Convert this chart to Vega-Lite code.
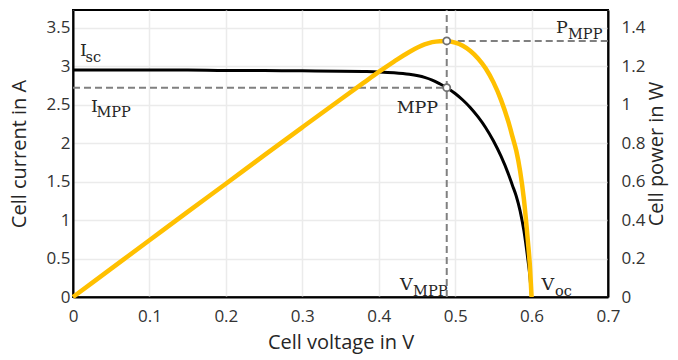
{
  "$schema": "https://vega.github.io/schema/vega-lite/v6.json",
  "width": 535,
  "height": 287,
  "autosize": {"type": "none"},
  "padding": {"left": 73, "top": 10, "right": 70, "bottom": 63},
  "background": "white",
  "config": {
    "view": {"stroke": "black", "strokeWidth": 2},
    "axis": {
      "labelFont": "Open Sans",
      "labelFontSize": 17,
      "labelColor": "#333333",
      "titleFont": "Open Sans",
      "titleFontSize": 20,
      "titleFontWeight": "normal",
      "titleColor": "#262626",
      "domainColor": "black",
      "domainWidth": 2,
      "ticks": false,
      "gridColor": "#ebebeb",
      "gridWidth": 1.5,
      "format": "~g"
    }
  },
  "datasets": {
    "curve": [
      {"V": 0, "I": 2.95, "P": 0},
      {"V": 0.05, "I": 2.95, "P": 0.1475},
      {"V": 0.1, "I": 2.95, "P": 0.295},
      {"V": 0.15, "I": 2.95, "P": 0.4425},
      {"V": 0.2, "I": 2.945, "P": 0.589},
      {"V": 0.25, "I": 2.945, "P": 0.736},
      {"V": 0.3, "I": 2.94, "P": 0.882},
      {"V": 0.35, "I": 2.935, "P": 1.027},
      {"V": 0.38, "I": 2.93, "P": 1.113},
      {"V": 0.4, "I": 2.925, "P": 1.17},
      {"V": 0.42, "I": 2.915, "P": 1.224},
      {"V": 0.44, "I": 2.895, "P": 1.274},
      {"V": 0.46, "I": 2.855, "P": 1.313},
      {"V": 0.47, "I": 2.82, "P": 1.325},
      {"V": 0.48, "I": 2.77, "P": 1.33},
      {"V": 0.489, "I": 2.72, "P": 1.331},
      {"V": 0.5, "I": 2.645, "P": 1.3225},
      {"V": 0.51, "I": 2.56, "P": 1.306},
      {"V": 0.52, "I": 2.46, "P": 1.279},
      {"V": 0.53, "I": 2.34, "P": 1.24},
      {"V": 0.54, "I": 2.2, "P": 1.188},
      {"V": 0.55, "I": 2.03, "P": 1.117},
      {"V": 0.56, "I": 1.83, "P": 1.025},
      {"V": 0.57, "I": 1.59, "P": 0.906},
      {"V": 0.575, "I": 1.45, "P": 0.834},
      {"V": 0.58, "I": 1.31, "P": 0.76},
      {"V": 0.585, "I": 1.12, "P": 0.655},
      {"V": 0.59, "I": 0.86, "P": 0.507},
      {"V": 0.595, "I": 0.5, "P": 0.2975},
      {"V": 0.598, "I": 0.25, "P": 0.15},
      {"V": 0.6, "I": 0, "P": 0}
    ],
    "mainText": [
      {"t": "I", "x": 0.0092, "y": 3.136},
      {"t": "I", "x": 0.0236, "y": 2.406},
      {"t": "MPP", "x": 0.4235, "y": 2.394},
      {"t": "P", "x": 0.632, "y": 3.425},
      {"t": "V", "x": 0.428, "y": 0.091},
      {"t": "V", "x": 0.613, "y": 0.091}
    ],
    "subText": [
      {"t": "sc", "x": 0.0164, "y": 3.058},
      {"t": "MPP", "x": 0.0307, "y": 2.338},
      {"t": "MPP", "x": 0.6477, "y": 3.347},
      {"t": "MPP", "x": 0.445, "y": 0.01},
      {"t": "oc", "x": 0.6306, "y": 0.01}
    ]
  },
  "layer": [
    {
      "data": {"name": "curve"},
      "mark": {"type": "line", "color": "black", "strokeWidth": 3, "interpolate": "monotone"},
      "encoding": {
        "x": {"field": "V", "type": "quantitative", "title": "Cell voltage in V",
          "scale": {"domain": [0, 0.7], "nice": false, "zero": false},
          "axis": {"orient": "bottom", "values": [0, 0.1, 0.2, 0.3, 0.4, 0.5, 0.6, 0.7], "labelPadding": 11, "titlePadding": 8, "grid": true, "labelFlush": false}},
        "y": {"field": "I", "type": "quantitative", "title": "Cell current in A",
          "scale": {"domain": [0, 3.73], "nice": false, "zero": false},
          "axis": {"orient": "left", "values": [0, 0.5, 1, 1.5, 2, 2.5, 3, 3.5], "labelPadding": 3, "titlePadding": 17, "grid": true, "labelFlush": false}}
      }
    },
    {
      "data": {"values": [{"x1": 0, "x2": 0.489, "y": 2.72}]},
      "mark": {"type": "rule", "color": "#808080", "strokeWidth": 2, "strokeDash": [7, 4]},
      "encoding": {
        "x": {"field": "x1", "type": "quantitative", "title": "Cell voltage in V", "scale": {"domain": [0, 0.7], "nice": false, "zero": false},
          "axis": {"orient": "bottom", "values": [0, 0.1, 0.2, 0.3, 0.4, 0.5, 0.6, 0.7], "labelPadding": 11, "titlePadding": 8, "grid": true, "labelFlush": false}},
        "x2": {"field": "x2"},
        "y": {"field": "y", "type": "quantitative", "scale": {"domain": [0, 3.73], "nice": false, "zero": false}, "axis": null}
      }
    },
    {
      "data": {"values": [{"x": 0.489, "y1": 0, "y2": 3.73}]},
      "mark": {"type": "rule", "color": "#808080", "strokeWidth": 2, "strokeDash": [7, 4]},
      "encoding": {
        "x": {"field": "x", "type": "quantitative", "title": "Cell voltage in V", "scale": {"domain": [0, 0.7], "nice": false, "zero": false},
          "axis": {"orient": "bottom", "values": [0, 0.1, 0.2, 0.3, 0.4, 0.5, 0.6, 0.7], "labelPadding": 11, "titlePadding": 8, "grid": true, "labelFlush": false}},
        "y": {"field": "y1", "type": "quantitative", "scale": {"domain": [0, 3.73], "nice": false, "zero": false}, "axis": null},
        "y2": {"field": "y2"}
      }
    },
    {
      "data": {"values": [{"x1": 0.489, "x2": 0.7, "p": 1.331}]},
      "mark": {"type": "rule", "color": "#808080", "strokeWidth": 2, "strokeDash": [7, 4]},
      "encoding": {
        "x": {"field": "x1", "type": "quantitative", "title": "Cell voltage in V", "scale": {"domain": [0, 0.7], "nice": false, "zero": false},
          "axis": {"orient": "bottom", "values": [0, 0.1, 0.2, 0.3, 0.4, 0.5, 0.6, 0.7], "labelPadding": 11, "titlePadding": 8, "grid": true, "labelFlush": false}},
        "x2": {"field": "x2"},
        "y": {"field": "p", "type": "quantitative", "scale": {"domain": [0, 1.492], "nice": false, "zero": false}, "axis": null}
      }
    },
    {
      "data": {"name": "curve"},
      "mark": {"type": "line", "color": "#FFC000", "strokeWidth": 4.5, "interpolate": "monotone"},
      "encoding": {
        "x": {"field": "V", "type": "quantitative", "title": "Cell voltage in V", "scale": {"domain": [0, 0.7], "nice": false, "zero": false},
          "axis": {"orient": "bottom", "values": [0, 0.1, 0.2, 0.3, 0.4, 0.5, 0.6, 0.7], "labelPadding": 11, "titlePadding": 8, "grid": true, "labelFlush": false}},
        "y": {"field": "P", "type": "quantitative", "title": "Cell power in W",
          "scale": {"domain": [0, 1.492], "nice": false, "zero": false},
          "axis": {"orient": "right", "values": [0, 0.2, 0.4, 0.6, 0.8, 1, 1.2, 1.4], "labelPadding": 13, "titlePadding": 2, "titleAngle": 270, "titleBaseline": "top", "grid": false, "labelFlush": false}}
      }
    },
    {
      "data": {"values": [{"x": 0.489, "y": 2.72}]},
      "mark": {"type": "point", "shape": "circle", "filled": true, "fill": "white", "stroke": "#707070", "strokeWidth": 1.8, "size": 50, "opacity": 1},
      "encoding": {
        "x": {"field": "x", "type": "quantitative", "title": "Cell voltage in V", "scale": {"domain": [0, 0.7], "nice": false, "zero": false},
          "axis": {"orient": "bottom", "values": [0, 0.1, 0.2, 0.3, 0.4, 0.5, 0.6, 0.7], "labelPadding": 11, "titlePadding": 8, "grid": true, "labelFlush": false}},
        "y": {"field": "y", "type": "quantitative", "scale": {"domain": [0, 3.73], "nice": false, "zero": false}, "axis": null}
      }
    },
    {
      "data": {"values": [{"x": 0.489, "p": 1.331}]},
      "mark": {"type": "point", "shape": "circle", "filled": true, "fill": "white", "stroke": "#707070", "strokeWidth": 1.8, "size": 50, "opacity": 1},
      "encoding": {
        "x": {"field": "x", "type": "quantitative", "title": "Cell voltage in V", "scale": {"domain": [0, 0.7], "nice": false, "zero": false},
          "axis": {"orient": "bottom", "values": [0, 0.1, 0.2, 0.3, 0.4, 0.5, 0.6, 0.7], "labelPadding": 11, "titlePadding": 8, "grid": true, "labelFlush": false}},
        "y": {"field": "p", "type": "quantitative", "scale": {"domain": [0, 1.492], "nice": false, "zero": false}, "axis": null}
      }
    },
    {
      "data": {"name": "mainText"},
      "mark": {"type": "text", "font": "DejaVu Serif", "fontSize": 17.5, "align": "left", "baseline": "alphabetic", "color": "#262626"},
      "encoding": {
        "x": {"field": "x", "type": "quantitative", "title": "Cell voltage in V", "scale": {"domain": [0, 0.7], "nice": false, "zero": false},
          "axis": {"orient": "bottom", "values": [0, 0.1, 0.2, 0.3, 0.4, 0.5, 0.6, 0.7], "labelPadding": 11, "titlePadding": 8, "grid": true, "labelFlush": false}},
        "y": {"field": "y", "type": "quantitative", "scale": {"domain": [0, 3.73], "nice": false, "zero": false}, "axis": null},
        "text": {"field": "t"}
      }
    },
    {
      "data": {"name": "subText"},
      "mark": {"type": "text", "font": "DejaVu Serif", "fontSize": 14.5, "align": "left", "baseline": "alphabetic", "color": "#262626"},
      "encoding": {
        "x": {"field": "x", "type": "quantitative", "title": "Cell voltage in V", "scale": {"domain": [0, 0.7], "nice": false, "zero": false},
          "axis": {"orient": "bottom", "values": [0, 0.1, 0.2, 0.3, 0.4, 0.5, 0.6, 0.7], "labelPadding": 11, "titlePadding": 8, "grid": true, "labelFlush": false}},
        "y": {"field": "y", "type": "quantitative", "scale": {"domain": [0, 3.73], "nice": false, "zero": false}, "axis": null},
        "text": {"field": "t"}
      }
    }
  ],
  "resolve": {"scale": {"y": "independent"}}
}
